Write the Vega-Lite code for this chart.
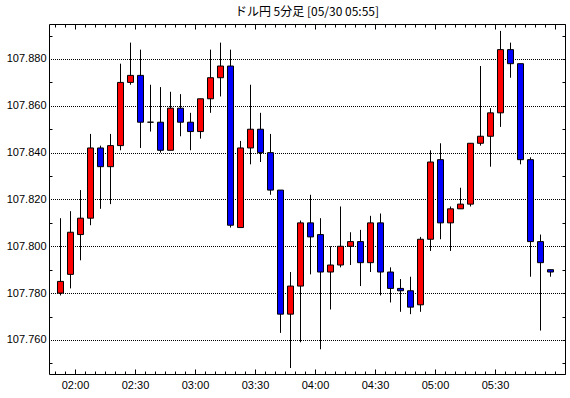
{
  "$schema": "https://vega.github.io/schema/vega-lite/v6.json",
  "width": 516,
  "height": 350,
  "autosize": "none",
  "padding": {"left": 49, "top": 24, "right": 5, "bottom": 24},
  "background": "white",
  "title": {"text": "ドル円 5分足 [05/30 05:55]", "anchor": "middle", "offset": 5, "font": "Noto Sans CJK JP", "fontSize": 12, "fontWeight": "normal", "color": "black"},
  "config": {
    "view": {"stroke": null},
    "axis": {"domainColor": "black", "tickColor": "black", "labelColor": "black", "labelFont": "Liberation Sans", "labelFontSize": 11, "grid": false, "tickWidth": 1, "domainWidth": 1}
  },
  "data": {"values": [
    {"t": "2020-05-30T01:50", "open": 107.780, "high": 107.812, "low": 107.779, "close": 107.785},
    {"t": "2020-05-30T01:55", "open": 107.788, "high": 107.815, "low": 107.782, "close": 107.806},
    {"t": "2020-05-30T02:00", "open": 107.805, "high": 107.824, "low": 107.794, "close": 107.812},
    {"t": "2020-05-30T02:05", "open": 107.812, "high": 107.848, "low": 107.809, "close": 107.842},
    {"t": "2020-05-30T02:10", "open": 107.842, "high": 107.843, "low": 107.816, "close": 107.834},
    {"t": "2020-05-30T02:15", "open": 107.834, "high": 107.848, "low": 107.818, "close": 107.843},
    {"t": "2020-05-30T02:20", "open": 107.843, "high": 107.878, "low": 107.841, "close": 107.870},
    {"t": "2020-05-30T02:25", "open": 107.870, "high": 107.887, "low": 107.869, "close": 107.873},
    {"t": "2020-05-30T02:30", "open": 107.873, "high": 107.884, "low": 107.842, "close": 107.853},
    {"t": "2020-05-30T02:35", "open": 107.853, "high": 107.869, "low": 107.849, "close": 107.853},
    {"t": "2020-05-30T02:40", "open": 107.853, "high": 107.868, "low": 107.840, "close": 107.841},
    {"t": "2020-05-30T02:45", "open": 107.841, "high": 107.866, "low": 107.841, "close": 107.859},
    {"t": "2020-05-30T02:50", "open": 107.859, "high": 107.865, "low": 107.847, "close": 107.853},
    {"t": "2020-05-30T02:55", "open": 107.853, "high": 107.857, "low": 107.841, "close": 107.849},
    {"t": "2020-05-30T03:00", "open": 107.849, "high": 107.863, "low": 107.846, "close": 107.863},
    {"t": "2020-05-30T03:05", "open": 107.863, "high": 107.884, "low": 107.857, "close": 107.872},
    {"t": "2020-05-30T03:10", "open": 107.872, "high": 107.887, "low": 107.864, "close": 107.877},
    {"t": "2020-05-30T03:15", "open": 107.877, "high": 107.884, "low": 107.808, "close": 107.809},
    {"t": "2020-05-30T03:20", "open": 107.808, "high": 107.845, "low": 107.808, "close": 107.842},
    {"t": "2020-05-30T03:25", "open": 107.842, "high": 107.869, "low": 107.835, "close": 107.850},
    {"t": "2020-05-30T03:30", "open": 107.850, "high": 107.857, "low": 107.836, "close": 107.840},
    {"t": "2020-05-30T03:35", "open": 107.840, "high": 107.848, "low": 107.822, "close": 107.824},
    {"t": "2020-05-30T03:40", "open": 107.824, "high": 107.824, "low": 107.763, "close": 107.771},
    {"t": "2020-05-30T03:45", "open": 107.771, "high": 107.789, "low": 107.748, "close": 107.783},
    {"t": "2020-05-30T03:50", "open": 107.783, "high": 107.811, "low": 107.759, "close": 107.810},
    {"t": "2020-05-30T03:55", "open": 107.810, "high": 107.822, "low": 107.788, "close": 107.804},
    {"t": "2020-05-30T04:00", "open": 107.805, "high": 107.812, "low": 107.756, "close": 107.789},
    {"t": "2020-05-30T04:05", "open": 107.789, "high": 107.800, "low": 107.773, "close": 107.792},
    {"t": "2020-05-30T04:10", "open": 107.792, "high": 107.817, "low": 107.791, "close": 107.800},
    {"t": "2020-05-30T04:15", "open": 107.800, "high": 107.806, "low": 107.792, "close": 107.802},
    {"t": "2020-05-30T04:20", "open": 107.802, "high": 107.807, "low": 107.783, "close": 107.793},
    {"t": "2020-05-30T04:25", "open": 107.793, "high": 107.813, "low": 107.789, "close": 107.810},
    {"t": "2020-05-30T04:30", "open": 107.810, "high": 107.814, "low": 107.779, "close": 107.789},
    {"t": "2020-05-30T04:35", "open": 107.789, "high": 107.791, "low": 107.776, "close": 107.782},
    {"t": "2020-05-30T04:40", "open": 107.782, "high": 107.786, "low": 107.772, "close": 107.781},
    {"t": "2020-05-30T04:45", "open": 107.781, "high": 107.787, "low": 107.771, "close": 107.774},
    {"t": "2020-05-30T04:50", "open": 107.775, "high": 107.804, "low": 107.772, "close": 107.803},
    {"t": "2020-05-30T04:55", "open": 107.803, "high": 107.841, "low": 107.798, "close": 107.836},
    {"t": "2020-05-30T05:00", "open": 107.837, "high": 107.844, "low": 107.803, "close": 107.810},
    {"t": "2020-05-30T05:05", "open": 107.810, "high": 107.817, "low": 107.798, "close": 107.816},
    {"t": "2020-05-30T05:10", "open": 107.816, "high": 107.825, "low": 107.816, "close": 107.818},
    {"t": "2020-05-30T05:15", "open": 107.818, "high": 107.844, "low": 107.817, "close": 107.844},
    {"t": "2020-05-30T05:20", "open": 107.844, "high": 107.877, "low": 107.843, "close": 107.847},
    {"t": "2020-05-30T05:25", "open": 107.847, "high": 107.859, "low": 107.834, "close": 107.857},
    {"t": "2020-05-30T05:30", "open": 107.857, "high": 107.892, "low": 107.851, "close": 107.884},
    {"t": "2020-05-30T05:35", "open": 107.884, "high": 107.887, "low": 107.872, "close": 107.878},
    {"t": "2020-05-30T05:40", "open": 107.878, "high": 107.878, "low": 107.835, "close": 107.837},
    {"t": "2020-05-30T05:45", "open": 107.837, "high": 107.838, "low": 107.787, "close": 107.802},
    {"t": "2020-05-30T05:50", "open": 107.802, "high": 107.805, "low": 107.764, "close": 107.793},
    {"t": "2020-05-30T05:55", "open": 107.790, "high": 107.790, "low": 107.787, "close": 107.789}
  ]},
  "layer": [
    {
      "mark": {"type": "rule", "color": "black", "strokeWidth": 1, "xOffset": 5.5},
      "encoding": {
        "x": {"field": "t", "type": "temporal",
              "scale": {"domain": [{"year": 2020, "month": 5, "date": 30, "hours": 1, "minutes": 47}, {"year": 2020, "month": 5, "date": 30, "hours": 6, "minutes": 5}], "nice": false, "padding": 0},
              "axis": {"orient": "bottom", "title": null, "values": [
                {"year": 2020, "month": 5, "date": 30, "hours": 2, "minutes": 0},
                {"year": 2020, "month": 5, "date": 30, "hours": 2, "minutes": 30},
                {"year": 2020, "month": 5, "date": 30, "hours": 3, "minutes": 0},
                {"year": 2020, "month": 5, "date": 30, "hours": 3, "minutes": 30},
                {"year": 2020, "month": 5, "date": 30, "hours": 4, "minutes": 0},
                {"year": 2020, "month": 5, "date": 30, "hours": 4, "minutes": 30},
                {"year": 2020, "month": 5, "date": 30, "hours": 5, "minutes": 0},
                {"year": 2020, "month": 5, "date": 30, "hours": 5, "minutes": 30}], "format": "%H:%M", "tickSize": -5, "labelPadding": 10, "domain": true}},
        "y": {"field": "low", "type": "quantitative",
              "scale": {"domain": [107.74544, 107.89495], "zero": false, "nice": false, "padding": 0},
              "axis": {"orient": "left", "title": null, "values": [107.76, 107.78, 107.8, 107.82, 107.84, 107.86, 107.88], "format": ".3f", "ticks": false, "labelPadding": 3, "grid": true, "gridColor": "black", "gridDash": [1, 1], "gridDashOffset": 0.5, "gridWidth": 1, "gridOpacity": 1, "domain": true}},
        "y2": {"field": "high"}
      }
    },
    {
      "transform": [{"filter": "datum.close > datum.open"}],
      "mark": {"type": "bar", "fill": "#ff0000", "stroke": "black", "strokeWidth": 1, "width": 6, "xOffset": 5.5},
      "encoding": {
        "x": {"field": "t", "type": "temporal",
              "scale": {"domain": [{"year": 2020, "month": 5, "date": 30, "hours": 1, "minutes": 47}, {"year": 2020, "month": 5, "date": 30, "hours": 6, "minutes": 5}], "nice": false, "padding": 0},
              "axis": {"orient": "bottom", "title": null, "tickCount": 60, "labels": false, "tickSize": -3, "domain": false}},
        "y": {"field": "open", "type": "quantitative",
              "scale": {"domain": [107.74544, 107.89495], "zero": false, "nice": false, "padding": 0},
              "axis": {"orient": "left", "title": null, "values": [107.75, 107.77, 107.79, 107.81, 107.83, 107.85, 107.87, 107.89], "labels": false, "tickSize": -3, "domain": false}},
        "y2": {"field": "close"}
      }
    },
    {
      "transform": [{"filter": "datum.close <= datum.open"}],
      "mark": {"type": "bar", "fill": "#0000ff", "stroke": "black", "strokeWidth": 1, "width": 6, "xOffset": 5.5},
      "encoding": {
        "x": {"field": "t", "type": "temporal",
              "scale": {"domain": [{"year": 2020, "month": 5, "date": 30, "hours": 1, "minutes": 47}, {"year": 2020, "month": 5, "date": 30, "hours": 6, "minutes": 5}], "nice": false, "padding": 0},
              "axis": {"orient": "top", "title": null, "tickCount": 10, "labels": false, "tickSize": -5, "domain": true}},
        "y": {"field": "open", "type": "quantitative",
              "scale": {"domain": [107.74544, 107.89495], "zero": false, "nice": false, "padding": 0},
              "axis": {"orient": "right", "title": null, "values": [107.75, 107.76, 107.77, 107.78, 107.79, 107.8, 107.81, 107.82, 107.83, 107.84, 107.85, 107.86, 107.87, 107.88, 107.89], "labels": false, "tickSize": -3, "domain": true}},
        "y2": {"field": "close"}
      }
    },
    {
      "mark": {"type": "rule", "opacity": 0, "xOffset": 5.5},
      "encoding": {
        "x": {"field": "t", "type": "temporal",
              "scale": {"domain": [{"year": 2020, "month": 5, "date": 30, "hours": 1, "minutes": 47}, {"year": 2020, "month": 5, "date": 30, "hours": 6, "minutes": 5}], "nice": false, "padding": 0},
              "axis": {"orient": "top", "title": null, "tickCount": 60, "labels": false, "tickSize": -3, "domain": false}},
        "y": {"field": "low", "type": "quantitative",
              "scale": {"domain": [107.74544, 107.89495], "zero": false, "nice": false, "padding": 0},
              "axis": null},
        "y2": {"field": "high"}
      }
    }
  ],
  "resolve": {"axis": {"x": "independent", "y": "independent"}}
}
